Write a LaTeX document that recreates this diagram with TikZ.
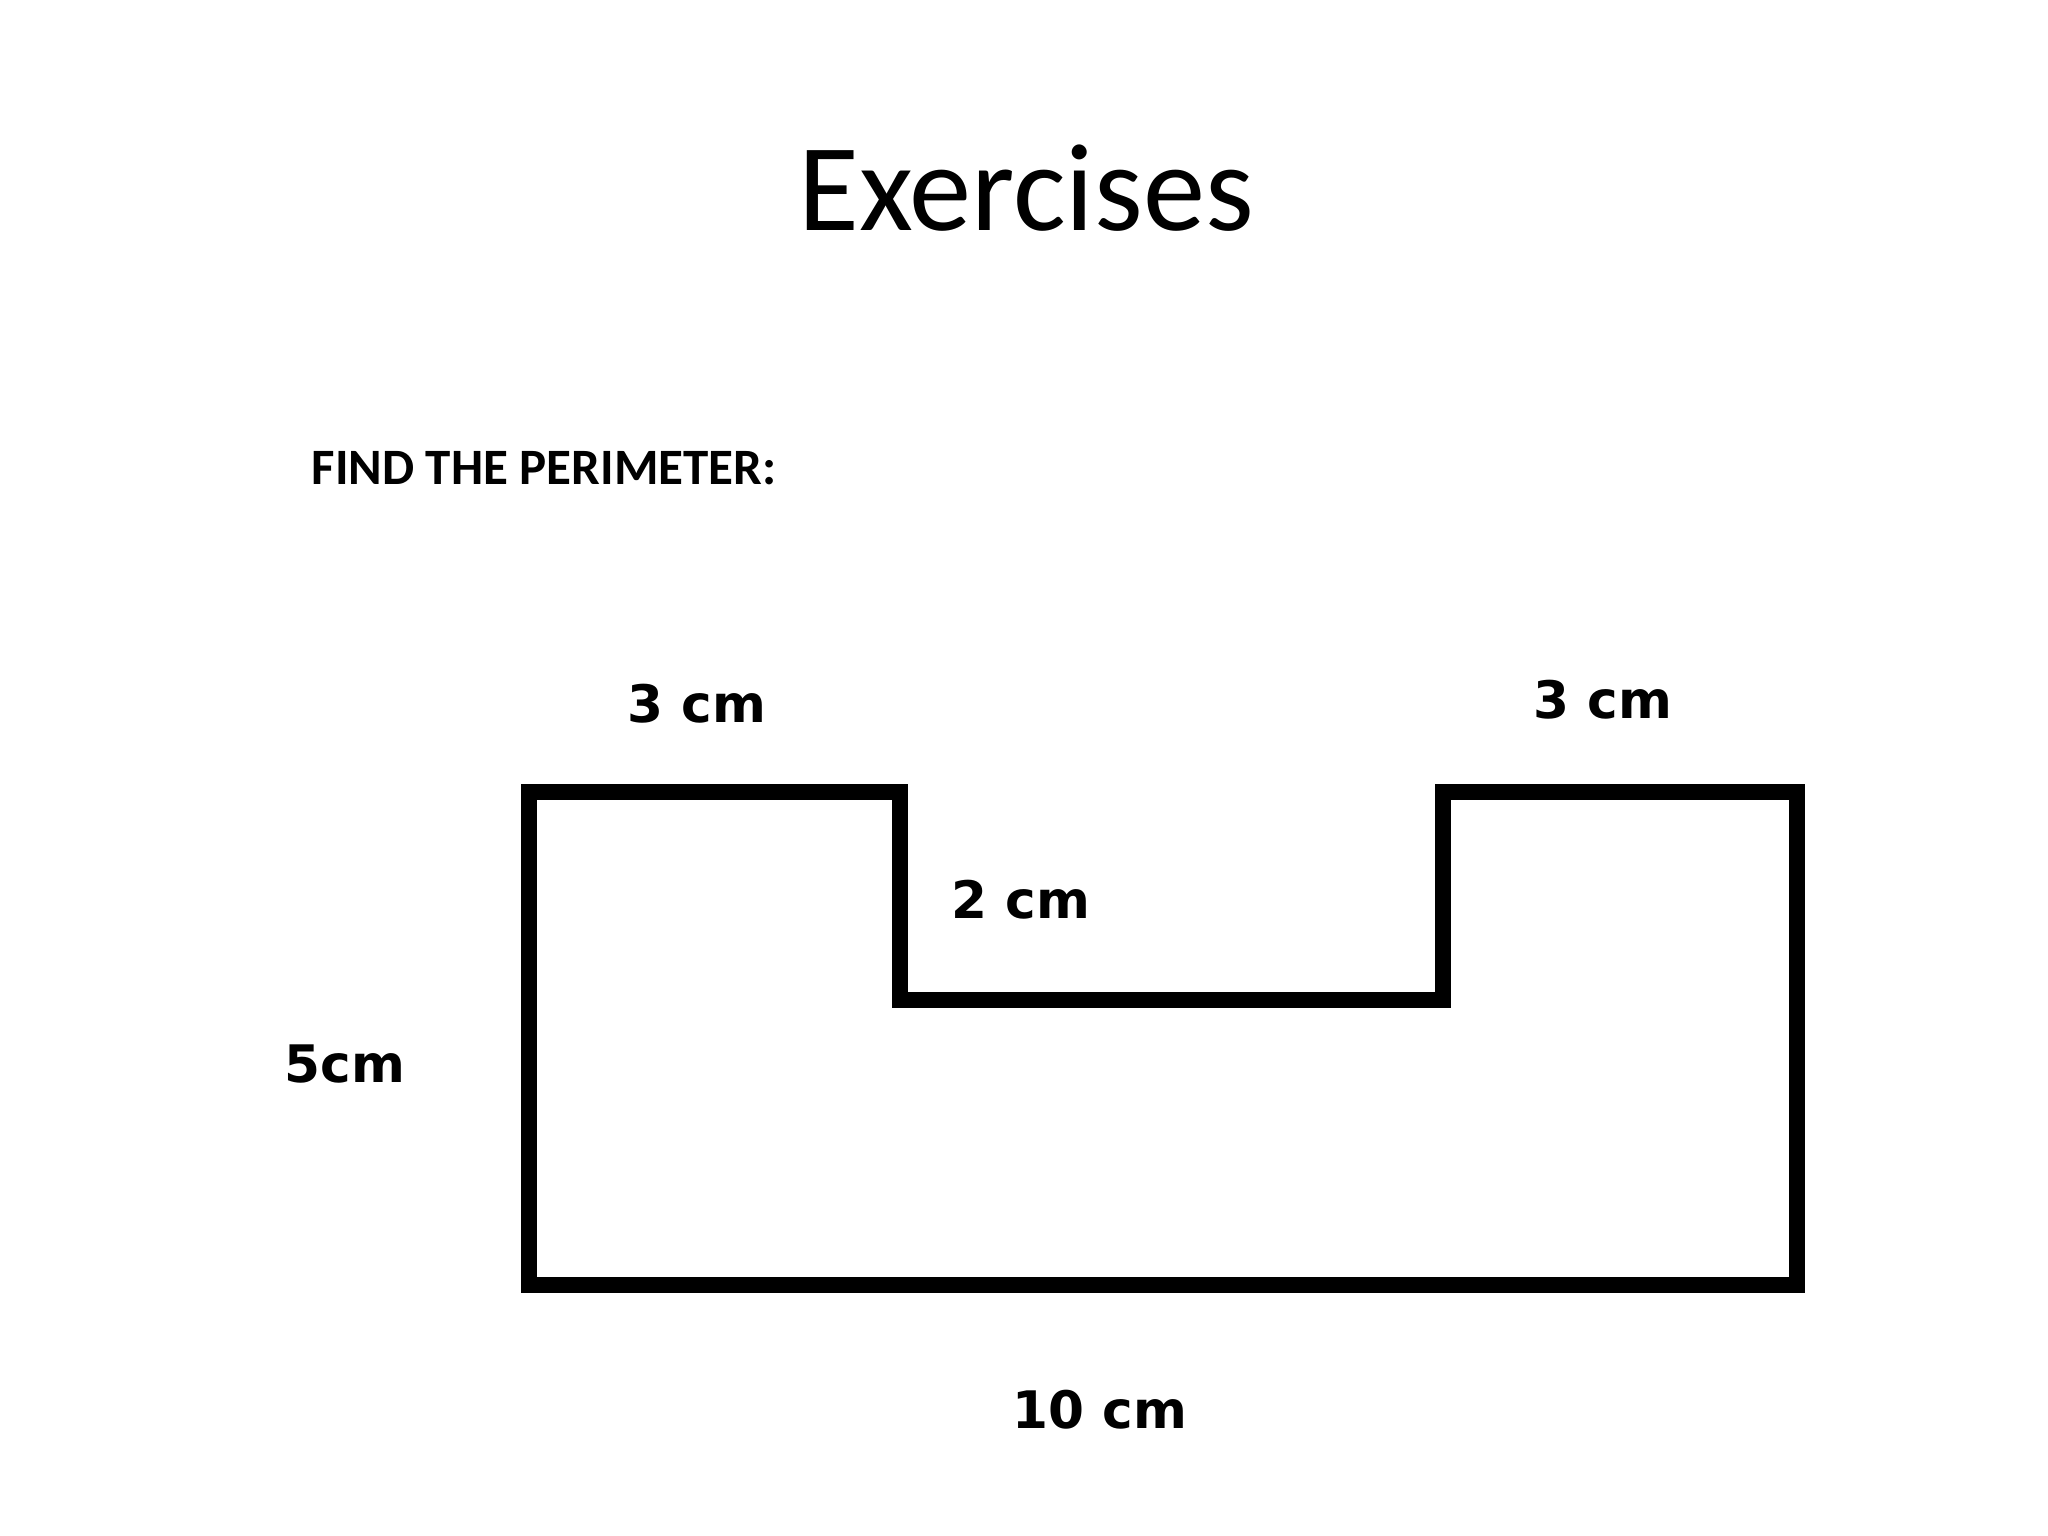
\documentclass[tikz,border=0pt]{standalone}
\usepackage{fontspec}
\setmainfont{Carlito}
\newfontfamily\labelfont{DejaVu Sans}
\usepackage{tikz}

\tikzset{
  dimlabel/.style={anchor=base, inner sep=0pt, font=\labelfont\bfseries\fontsize{14.7pt}{17pt}\selectfont}
}

\begin{document}
\begin{tikzpicture}[x=0.01cm, y=-0.01cm] % one unit = one pixel, y downwards
        \useasboundingbox (0,0) rectangle (2048,1536);

        % Title and task
        \node[anchor=base, inner sep=0pt, font=\fontsize{35.4pt}{41pt}\selectfont] (title) at (1026,230) {Exercises};
        \node[anchor=base west, inner sep=0pt, font=\bfseries\fontsize{14.5pt}{17pt}\selectfont] (task) at (311,484) {FIND THE PERIMETER:};

        % Outline of the figure
        \draw[line width=4.3pt] (529,792) -- (900,792) -- (900,1000) -- (1443,1000)
              -- (1443,792) -- (1797,792) -- (1797,1285) -- (529,1285) -- cycle;

        % Side lengths
        \node[dimlabel] (lefttop) at (697,722) {3 cm};
        \node[dimlabel] (righttop) at (1603,718) {3 cm};
        \node[dimlabel] (notch) at (1021,918) {2 cm};
        \node[dimlabel] (height) at (345,1082) {5cm};
        \node[dimlabel] (base) at (1100,1428) {10 cm};
    \end{tikzpicture}
\end{document}
